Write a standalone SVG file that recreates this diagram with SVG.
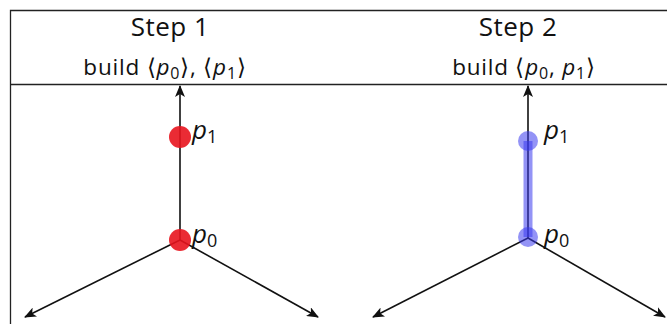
<svg xmlns="http://www.w3.org/2000/svg" width="667" height="324" viewBox="0 0 667 324">
<style>
.frame{stroke:#222;stroke-width:1.3;fill:none}
.axis{stroke:#111;stroke-width:1.6;fill:none;marker-end:url(#ah)}
.title{font-family:"Open Sans","Liberation Sans",sans-serif;font-size:26px;fill:#111;text-anchor:middle;letter-spacing:0.5px}
.sub{font-family:"Open Sans","Liberation Sans",sans-serif;font-size:22.5px;fill:#111;text-anchor:middle;letter-spacing:0.8px}
.lbl{font-family:"Open Sans","Liberation Sans",sans-serif;font-size:26px;fill:#111;font-style:italic}
.it{font-style:italic}
.red{fill:#e8141e;fill-opacity:0.9}
.blue{fill:#3a3aee;fill-opacity:0.55}
</style>
<defs>
<marker id="ah" viewBox="0 0 12 10" refX="11" refY="5" markerWidth="12" markerHeight="10" markerUnits="userSpaceOnUse" orient="auto">
<path d="M0,0 L12,5 L0,10 L3,5 Z" fill="#111"/>
</marker>
</defs>
<g id="frame">
<path class="frame" d="M10.5,324 V10.5 H667"/>
<line class="frame" x1="10" y1="84.5" x2="667" y2="84.5"/>
</g>
<g id="headers">
<text class="title" x="170" y="36">Step 1</text>
<text class="sub" x="165" y="75">build ⟨<tspan class="it">p</tspan><tspan font-size="16" dy="4">0</tspan><tspan dy="-4">⟩, ⟨</tspan><tspan class="it">p</tspan><tspan font-size="16" dy="4">1</tspan><tspan dy="-4">⟩</tspan></text>
<text class="title" x="518" y="36">Step 2</text>
<text class="sub" x="524" y="75">build ⟨<tspan class="it">p</tspan><tspan font-size="16" dy="4">0</tspan><tspan dy="-4">, </tspan><tspan class="it">p</tspan><tspan font-size="16" dy="4">1</tspan><tspan dy="-4">⟩</tspan></text>
</g>
<g id="connectors">
<line class="axis" x1="180" y1="240" x2="180" y2="86"/>
<line class="axis" x1="180" y1="240" x2="25" y2="317"/>
<line class="axis" x1="180" y1="240" x2="318" y2="317"/>
<line class="axis" x1="528" y1="238" x2="528" y2="86"/>
<line class="axis" x1="528" y1="238" x2="373" y2="317"/>
<line class="axis" x1="528" y1="238" x2="665" y2="317"/>
</g>
<g id="step1-p1">
<circle class="red" cx="180" cy="137" r="11"/>
<text class="lbl" x="192" y="139">p<tspan font-style="normal" font-size="18" dy="4">1</tspan></text>
</g>
<g id="step1-p0">
<circle class="red" cx="180" cy="240" r="11"/>
<text class="lbl" x="192" y="243">p<tspan font-style="normal" font-size="18" dy="4">0</tspan></text>
</g>
<g id="step2-edge">
<line x1="528" y1="141" x2="528" y2="237" stroke="#3a3aee" stroke-opacity="0.55" stroke-width="9"/>
</g>
<g id="step2-p1">
<circle class="blue" cx="528" cy="141" r="10"/>
<text class="lbl" x="544" y="139">p<tspan font-style="normal" font-size="18" dy="4">1</tspan></text>
</g>
<g id="step2-p0">
<circle class="blue" cx="528" cy="237" r="10"/>
<text class="lbl" x="544" y="243">p<tspan font-style="normal" font-size="18" dy="4">0</tspan></text>
</g>
</svg>
